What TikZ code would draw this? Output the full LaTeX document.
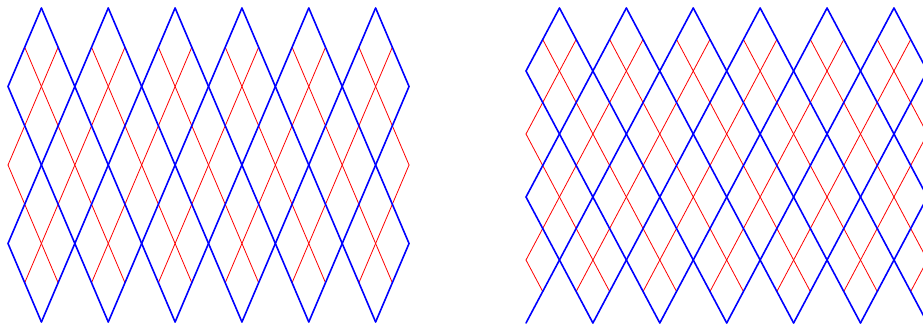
\documentclass[tikz,border=0pt]{standalone}
\tikzset{
  blueline/.style={draw={rgb,255:red,0;green,0;blue,255}, line width=1.6pt, line cap=round},
  redline/.style={draw={rgb,255:red,255;green,0;blue,0}, line width=0.8pt, line cap=round}
}
% family X+Y=k clipped to [0,W]x[y0,y1]
\newcommand\plusfam[5]{%
  \foreach \k in {#5} {%
    \pgfmathsetmacro\ya{max(#3,\k-#2)}%
    \pgfmathsetmacro\yb{min(#4,\k)}%
    \draw[#1] ({\k-\ya},\ya) -- ({\k-\yb},\yb);
  }}
% family X-Y=k clipped to [0,W]x[y0,y1]
\newcommand\minusfam[5]{%
  \foreach \k in {#5} {%
    \pgfmathsetmacro\ya{max(#3,0-(\k))}%
    \pgfmathsetmacro\yb{min(#4,#2-(\k))}%
    \draw[#1] ({\k+\ya},\ya) -- ({\k+\yb},\yb);
  }}
\begin{document}
\begin{tikzpicture}[x=1pt,y=-1pt]
\clip (0,0) rectangle (923,326);
\useasboundingbox (0,0) rectangle (923,326);
% left lattice
\begin{scope}[shift={(8,8)}, x=33.42pt, y=-78.5pt]
  \plusfam{redline}{12}{0.5}{3.5}{2,4,...,14}
  \minusfam{redline}{12}{0.5}{3.5}{-2,0,...,10}
  \plusfam{blueline}{12}{0}{4}{1,3,...,15}
  \minusfam{blueline}{12}{0}{4}{-3,-1,...,11}
\end{scope}
% right lattice
\begin{scope}[shift={(526,8)}, x=33.45pt, y=-63pt]
  \plusfam{redline}{12}{0.5}{4.5}{2,4,...,16}
  \minusfam{redline}{12}{0.5}{4.5}{-4,-2,...,10}
  \plusfam{blueline}{12}{0}{5}{1,3,...,15}
  \minusfam{blueline}{12}{0}{5}{-3,-1,...,11}
\end{scope}
\end{tikzpicture}
\end{document}
